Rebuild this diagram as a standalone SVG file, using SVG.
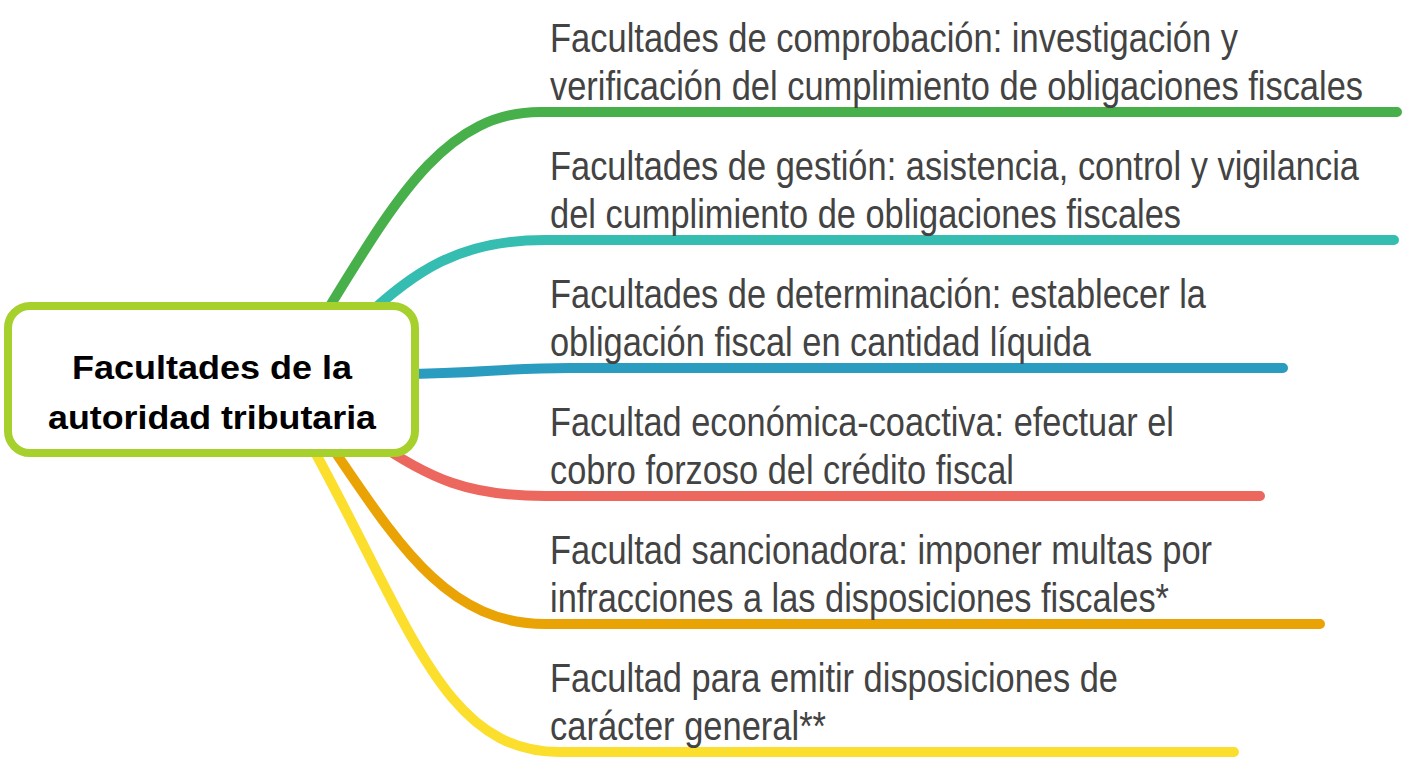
<svg xmlns="http://www.w3.org/2000/svg" width="1404" height="760" viewBox="0 0 1404 760">
<style>
.br{fill:none;stroke-width:10;stroke-linecap:round;stroke-linejoin:round}
.t{font-family:"Liberation Sans Narrow","Liberation Sans",Arial,sans-serif;font-size:41px;fill:#434343}
.c{font-family:"Liberation Sans",Arial,sans-serif;font-size:33px;font-weight:bold;fill:#000;text-anchor:middle}
</style>
<rect width="1404" height="760" fill="#fff"/>
<g id="connectors">
<path class="br" stroke="#47B04B" d="M315,330 C390,210 440,112 540,112 L1397,112"/>
<path class="br" stroke="#36BDB1" d="M360,322 C415,270 460,240 545,240 L1394,240"/>
<path class="br" stroke="#2A9CC0" d="M400,374 C480,374 500,368 570,368 L1283,368"/>
<path class="br" stroke="#EC685F" d="M370,438 C430,480 470,496 545,496 L1260,496"/>
<path class="br" stroke="#EAA304" d="M320,430 C390,530 440,624 545,624 L1320,624"/>
<path class="br" stroke="#FBDF2C" d="M300,425 C410,620 440,752 560,752 L1234,752"/>
</g>
<g id="central">
<rect x="8" y="306" width="407" height="147" rx="22" fill="#fff" stroke="#A6D02C" stroke-width="8"/>
<text class="c" x="212" y="379" textLength="280" lengthAdjust="spacingAndGlyphs">Facultades de la</text>
<text class="c" x="212" y="429" textLength="328" lengthAdjust="spacingAndGlyphs">autoridad tributaria</text>
</g>
<g id="b1">
<text class="t" x="550" y="52" textLength="688" lengthAdjust="spacingAndGlyphs">Facultades de comprobación: investigación y</text>
<text class="t" x="550" y="100" textLength="813" lengthAdjust="spacingAndGlyphs">verificación del cumplimiento de obligaciones fiscales</text>
</g>
<g id="b2">
<text class="t" x="550" y="180" textLength="809" lengthAdjust="spacingAndGlyphs">Facultades de gestión: asistencia, control y vigilancia</text>
<text class="t" x="550" y="228" textLength="631" lengthAdjust="spacingAndGlyphs">del cumplimiento de obligaciones fiscales</text>
</g>
<g id="b3">
<text class="t" x="550" y="308" textLength="656" lengthAdjust="spacingAndGlyphs">Facultades de determinación: establecer la</text>
<text class="t" x="550" y="356" textLength="541" lengthAdjust="spacingAndGlyphs">obligación fiscal en cantidad líquida</text>
</g>
<g id="b4">
<text class="t" x="550" y="436" textLength="624" lengthAdjust="spacingAndGlyphs">Facultad económica-coactiva: efectuar el</text>
<text class="t" x="550" y="484" textLength="464" lengthAdjust="spacingAndGlyphs">cobro forzoso del crédito fiscal</text>
</g>
<g id="b5">
<text class="t" x="550" y="564" textLength="662" lengthAdjust="spacingAndGlyphs">Facultad sancionadora: imponer multas por</text>
<text class="t" x="550" y="612" textLength="619" lengthAdjust="spacingAndGlyphs">infracciones a las disposiciones fiscales*</text>
</g>
<g id="b6">
<text class="t" x="550" y="692" textLength="568" lengthAdjust="spacingAndGlyphs">Facultad para emitir disposiciones de</text>
<text class="t" x="550" y="740" textLength="276" lengthAdjust="spacingAndGlyphs">carácter general**</text>
</g>
</svg>
